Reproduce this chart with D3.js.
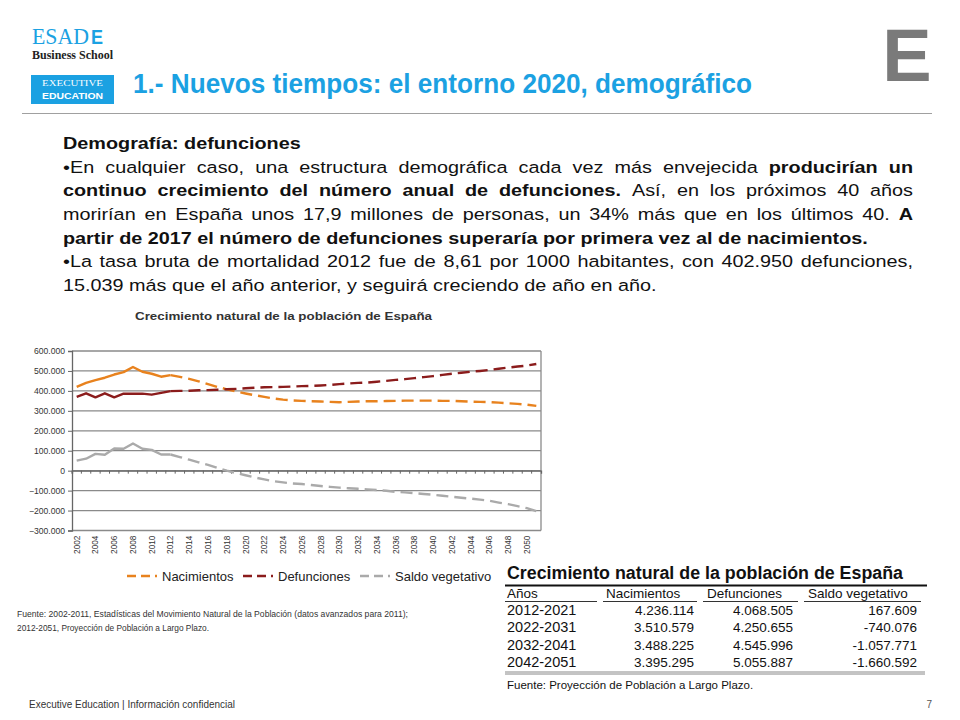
<!DOCTYPE html>
<html><head><meta charset="utf-8">
<script src="https://cdn.jsdelivr.net/npm/d3@7"></script>
<style>
html,body{margin:0;padding:0;background:#fff;}
svg{display:block;font-family:"Liberation Sans",Arial,sans-serif;}
</style></head>
<body>
<svg id="c" width="960" height="720"></svg>
<script>
// ---------- DATA ----------
const years = d3.range(2002, 2052);
const yTicks = [600000,500000,400000,300000,200000,100000,0,-100000,-200000,-300000];
const lastObservedYear = 2012;
const nacimientos = [420,440,454,466,482,494,520,496,486,471,479,
  470,460,448,434,420,408,397,387,378,370,362,356,352,350,348,347,345,343,345,
  347,348,348,349,350,351,351,351,351,350,350,348,346,345,344,341,338,335,331,325].map(v=>v*1000);
const defunciones = [370,388,368,388,368,386,386,386,381,390,399,
  400,401,403,404,406,408,410,413,416,418,419,420,422,424,425,427,430,434,437,
  440,442,446,450,455,459,464,469,474,480,486,491,496,500,505,511,517,522,527,535].map(v=>v*1000);
const saldo = [50,60,84,80,111,110,136,110,104,81,81,
  68,55,42,29,14,0,-12,-23,-34,-44,-53,-59,-64,-67,-72,-77,-81,-85,-88,
  -91,-94,-97,-101,-106,-109,-113,-117,-121,-126,-131,-136,-140,-145,-151,-160,-168,-178,-188,-203].map(v=>v*1000);
const seriesNames = ["Nacimientos","Defunciones","Saldo vegetativo"];
const seriesColors = ["#e8821e","#8b1c1c","#aaaaaa"];
const tableHeader = ["Años","Nacimientos","Defunciones","Saldo vegetativo"];
const tablePeriods = ["2012-2021","2022-2031","2032-2041","2042-2051"];
const tableNac = ["4.236.114","3.510.579","3.488.225","3.395.295"];
const tableDef = ["4.068.505","4.250.655","4.545.996","5.055.887"];
const tableSaldo = ["167.609","-740.076","-1.057.771","-1.660.592"];

const svg = d3.select("#c");
const blue = "#1ba1e2";

// ---------- HEADER ----------
const logo = svg.append("g");
logo.append("text").attr("x",32).attr("y",44).attr("font-family","'Liberation Serif','DejaVu Serif',serif")
  .attr("font-size",23).attr("fill",blue).attr("textLength",57).attr("lengthAdjust","spacingAndGlyphs").text("ESAD");
logo.append("text").attr("x",91).attr("y",44).attr("font-size",21).attr("font-weight","bold").attr("fill",blue)
  .attr("textLength",12).attr("lengthAdjust","spacingAndGlyphs").text("E");
logo.append("text").attr("x",32).attr("y",59).attr("font-family","'Liberation Serif','DejaVu Serif',serif")
  .attr("font-size",12).attr("font-weight","bold").attr("fill","#222").attr("textLength",81).attr("lengthAdjust","spacingAndGlyphs").text("Business School");
logo.append("rect").attr("x",31).attr("y",75).attr("width",83).attr("height",29).attr("fill",blue);
logo.append("text").attr("x",42).attr("y",86).attr("font-family","'Liberation Serif',serif")
  .attr("font-size",9).attr("fill","#fff").attr("textLength",61).attr("lengthAdjust","spacingAndGlyphs").text("EXECUTIVE");
logo.append("text").attr("x",42).attr("y",99).attr("font-size",8.5).attr("font-weight","bold")
  .attr("fill","#fff").attr("textLength",61).attr("lengthAdjust","spacingAndGlyphs").text("EDUCATION");

svg.append("text").attr("x",133).attr("y",93).attr("font-family","'Liberation Sans Narrow','Arial Narrow','Liberation Sans',sans-serif")
  .attr("font-size",28).attr("font-weight","bold").attr("fill",blue).attr("textLength",619).attr("lengthAdjust","spacingAndGlyphs")
  .text("1.- Nuevos tiempos: el entorno 2020, demográfico");
svg.append("text").attr("x",907).attr("y",81).attr("text-anchor","middle").attr("font-size",74).attr("font-weight","bold")
  .attr("fill","#7a7a7a").text("E");
svg.append("line").attr("x1",22).attr("x2",932).attr("y1",113.5).attr("y2",113.5).attr("stroke","#a0a0a0").attr("stroke-width",1);

// ---------- BODY TEXT (justified) ----------
const bodyLines = [
  {segs:[{t:"Demografía: defunciones",b:1}], just:false},
  {segs:[{t:"•En cualquier caso, una estructura demográfica cada vez más envejecida",b:0},{t:"producirían un",b:1}], just:true},
  {segs:[{t:"continuo crecimiento del número anual de defunciones.",b:1},{t:"Así, en los próximos 40 años",b:0}], just:true},
  {segs:[{t:"morirían en España unos 17,9 millones de personas, un 34% más que en los últimos 40.",b:0},{t:"A",b:1}], just:true},
  {segs:[{t:"partir de 2017 el número de defunciones superaría por primera vez al de nacimientos.",b:1}], just:false},
  {segs:[{t:"•La tasa bruta de mortalidad 2012 fue de 8,61 por 1000 habitantes, con 402.950 defunciones,",b:0}], just:true},
  {segs:[{t:"15.039 más que el año anterior, y seguirá creciendo de año en año.",b:0}], just:false}
];
const bx0 = 63, bx1 = 913, fs = 16.8, lineH = 23.7, by0 = 149, stretch = 1.18;
const body = svg.append("g").attr("font-size",fs).attr("fill","#111")
  .attr("transform",`translate(${bx0},0) scale(${stretch},1)`);
const meas = svg.append("text").attr("font-size",fs).attr("x",-1000).attr("y",-1000);
function wlen(t,b){ meas.attr("font-weight",b?"bold":"normal").text(t); return meas.node().getComputedTextLength(); }
const spaceW = wlen("a a",0)-wlen("aa",0);
const avail = (bx1-bx0)/stretch;
bodyLines.forEach((ln,i)=>{
  const words=[];
  ln.segs.forEach(s=>s.t.split(" ").forEach(w=>words.push({t:w,b:s.b,w:wlen(w,s.b)})));
  const tot=d3.sum(words,d=>d.w);
  const gap = ln.just ? (avail-tot)/(words.length-1) : spaceW;
  let x=0;
  words.forEach(w=>{
    body.append("text").attr("x",x).attr("y",by0+i*lineH).attr("font-weight",w.b?"bold":"normal").text(w.t);
    x+=w.w+gap;
  });
});
meas.remove();

// ---------- CHART ----------
const m = {l:72, r:541, t:351, b:530.5};
const x = d3.scaleBand().domain(years).range([m.l,m.r]);
const xc = d => x(d)+x.bandwidth()/2;
const y = d3.scaleLinear().domain([-300000,600000]).range([m.b,m.t]);

svg.append("text").attr("x",135).attr("y",320).attr("font-size",11.3).attr("font-weight","bold").attr("fill","#333")
  .attr("textLength",297).attr("lengthAdjust","spacingAndGlyphs").text("Crecimiento natural de la población de España");

const g = svg.append("g");
g.selectAll("line.grid").data(yTicks).join("line").attr("class","grid")
  .attr("x1",m.l).attr("x2",m.r).attr("y1",d=>y(d)).attr("y2",d=>y(d))
  .attr("stroke","#8a8a8a").attr("stroke-width",1.3);
g.append("line").attr("x1",m.r).attr("x2",m.r).attr("y1",m.t).attr("y2",m.b).attr("stroke","#8a8a8a").attr("stroke-width",1.3);
const yAxis = d3.axisLeft(y).tickValues(yTicks).tickSize(4).tickPadding(3)
  .tickFormat(d=>d===0?"0":d3.format(",")(d).replace(/,/g,"."));
const ya = g.append("g").attr("transform",`translate(${m.l},0)`).call(yAxis);
ya.select(".domain").attr("stroke","#666").attr("stroke-width",1.3);
ya.selectAll(".tick line").attr("stroke","#666");
ya.selectAll("text").attr("font-size",8.6).attr("fill","#333").attr("font-family","'Liberation Sans',Arial,sans-serif");
const xa = g.append("g").attr("transform",`translate(0,${y(0)})`)
  .call(d3.axisBottom(x).tickSize(3).tickFormat(""));
xa.select(".domain").attr("stroke","#666").attr("stroke-width",1.3);
xa.selectAll(".tick line").attr("stroke","#666").attr("transform",`translate(${-x.bandwidth()/2},0)`);
g.selectAll("text.yr").data(years.filter(d=>d%2===0)).join("text").attr("class","yr")
  .attr("transform",d=>`translate(${xc(d)+3},${m.b+5}) rotate(-90)`)
  .attr("text-anchor","end").attr("font-size",8.3).attr("fill","#333").text(d=>d);

const allSeries = [nacimientos, defunciones, saldo];
const line = d3.line().x(d=>xc(d.year)).y(d=>y(d.v));
allSeries.forEach((vals,i)=>{
  const pts = years.map((yr,j)=>({year:yr,v:vals[j]}));
  g.append("path").datum(pts.filter(p=>p.year<=lastObservedYear)).attr("d",line)
    .attr("fill","none").attr("stroke",seriesColors[i]).attr("stroke-width",2.4).attr("stroke-linejoin","round");
  g.append("path").datum(pts.filter(p=>p.year>=lastObservedYear)).attr("d",line)
    .attr("fill","none").attr("stroke",seriesColors[i]).attr("stroke-width",2.4).attr("stroke-dasharray","12,6");
});

const legX = [127,243,360], legTX=[162,278,395];
seriesNames.forEach((n,i)=>{
  svg.append("line").attr("x1",legX[i]).attr("x2",legX[i]+30).attr("y1",576).attr("y2",576)
    .attr("stroke",seriesColors[i]).attr("stroke-width",2.4).attr("stroke-dasharray","9,5");
  svg.append("text").attr("x",legTX[i]).attr("y",580.5).attr("font-size",13).attr("fill","#222").text(n);
});

const fn = svg.append("g").attr("font-size",8.2).attr("fill","#333");
fn.append("text").attr("x",17).attr("y",617).attr("textLength",391).attr("lengthAdjust","spacingAndGlyphs")
  .text("Fuente: 2002-2011, Estadísticas del Movimiento Natural de la Población (datos avanzados para 2011);");
fn.append("text").attr("x",17).attr("y",631).attr("textLength",192).attr("lengthAdjust","spacingAndGlyphs")
  .text("2012-2051, Proyección de Población a Largo Plazo.");

// ---------- TABLE ----------
const tb = svg.append("g").attr("fill","#111");
tb.append("text").attr("x",507).attr("y",579).attr("font-size",18).attr("font-weight","bold")
  .attr("textLength",396).attr("lengthAdjust","spacingAndGlyphs").text("Crecimiento natural de la población de España");
tb.append("line").attr("x1",505).attr("x2",927).attr("y1",585.5).attr("y2",585.5).attr("stroke","#111").attr("stroke-width",2.2);
const colX = [507,606,707,808];
const segs = [[505,597],[603,697],[703,798],[804,921]];
tableHeader.forEach((h,i)=>{
  tb.append("text").attr("x",colX[i]).attr("y",598).attr("font-size",13.5).text(h);
  tb.append("line").attr("x1",segs[i][0]).attr("x2",segs[i][1]).attr("y1",601.5).attr("y2",601.5).attr("stroke","#333").attr("stroke-width",1.2);
});
const rY = d3.scalePoint().domain(tablePeriods).range([615,667]);
const rightX = [694,793,917];
tablePeriods.forEach((p,i)=>{
  tb.append("text").attr("x",507).attr("y",rY(p)).attr("font-size",14.5).text(p);
  [tableNac,tableDef,tableSaldo].forEach((col,k)=>{
    tb.append("text").attr("x",rightX[k]).attr("y",rY(p)).attr("text-anchor","end").attr("font-size",13.5).text(col[i]);
  });
});
tb.append("line").attr("x1",505).attr("x2",925).attr("y1",672).attr("y2",672).attr("stroke","#888").attr("stroke-width",1);
tb.append("line").attr("x1",505).attr("x2",925).attr("y1",674).attr("y2",674).attr("stroke","#888").attr("stroke-width",1);
tb.append("text").attr("x",507).attr("y",689).attr("font-size",11.5).text("Fuente: Proyección de Población a Largo Plazo.");

// ---------- FOOTER ----------
svg.append("text").attr("x",29).attr("y",708).attr("font-family","'Liberation Sans Narrow','Liberation Sans',sans-serif")
  .attr("font-size",10.5).attr("fill","#333").attr("textLength",206).attr("lengthAdjust","spacingAndGlyphs")
  .text("Executive Education | Información confidencial");
svg.append("text").attr("x",932).attr("y",708).attr("text-anchor","end").attr("font-size",10).attr("fill","#555").text("7");
</script>
</body></html>
